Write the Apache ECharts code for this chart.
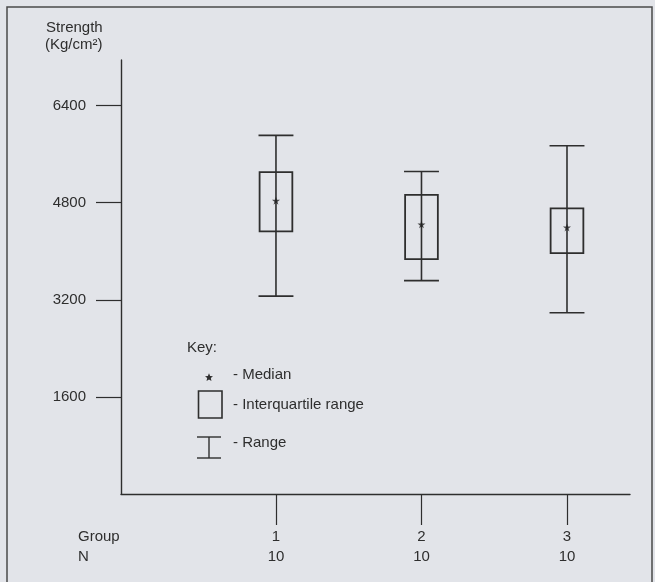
<!DOCTYPE html>
<html>
<head>
<meta charset="utf-8">
<script src="https://cdn.jsdelivr.net/npm/echarts@6/dist/echarts.min.js"></script>
<style>
html,body{margin:0;padding:0;background:#e2e4e9;}
#chart{width:655px;height:582px;}
</style>
</head>
<body>
<div id="chart"></div>
<script>
// ---- Data ----
const groups = ['1', '2', '3'];
const groupPos = [1, 2, 3];
const nValues = [10, 10, 10];
const rangeMin = [3260, 3515, 2986];
const q1 = [4326, 3868, 3967];
const median = [4833, 4442, 4392];
const q3 = [5302, 4927, 4707];
const rangeMax = [5908, 5313, 5738];
const yTicks = [1600, 3200, 4800, 6400];

const FONT = "'Liberation Sans', Arial, Helvetica, sans-serif";
const INK = '#2e2e2e';
const STAR = 'path://M50,0 L61,35 L98,35 L68,57 L79,91 L50,70 L21,91 L32,57 L2,35 L39,35 Z';

const boxData = groupPos.map((x, i) => [x, rangeMin[i], q1[i], median[i], q3[i], rangeMax[i]]);
const medianData = groupPos.map((x, i) => [x, median[i]]);

function starPoints(cx, cy, r) {
  const pts = [];
  for (let k = 0; k < 10; k++) {
    const a = -Math.PI / 2 + k * Math.PI / 5;
    const rr = k % 2 === 0 ? r : r * 0.45;
    pts.push([cx + rr * Math.cos(a), cy + rr * Math.sin(a)]);
  }
  return pts;
}

const chart = echarts.init(document.getElementById('chart'), null, {renderer: 'canvas'});

function renderBox(params, api) {
  const x = api.value(0);
  const pMin = api.coord([x, api.value(1)]);
  const pQ1 = api.coord([x, api.value(2)]);
  const pQ3 = api.coord([x, api.value(4)]);
  const pMax = api.coord([x, api.value(5)]);
  const boxW = api.size([0.225, 0])[0];
  const capW = api.size([0.24, 0])[0];
  const ls = {stroke: INK, lineWidth: 1.6, fill: null};
  return {
    type: 'group',
    children: [
      {type: 'line', shape: {x1: pMin[0], y1: pMin[1], x2: pMax[0], y2: pMax[1]}, style: ls},
      {type: 'line', shape: {x1: pMax[0] - capW / 2, y1: pMax[1], x2: pMax[0] + capW / 2, y2: pMax[1]}, style: ls},
      {type: 'line', shape: {x1: pMin[0] - capW / 2, y1: pMin[1], x2: pMin[0] + capW / 2, y2: pMin[1]}, style: ls},
      {type: 'rect', shape: {x: pQ3[0] - boxW / 2, y: pQ3[1], width: boxW, height: pQ1[1] - pQ3[1]}, style: {stroke: INK, lineWidth: 1.8, fill: null}}
    ]
  };
}

const txt = (x, y, text, extra) => ({
  type: 'text', x: x, y: y,
  style: Object.assign({text: text, fill: INK, font: '15px ' + FONT, verticalAlign: 'middle'}, extra || {})
});

chart.setOption({
  backgroundColor: '#e2e4e9',
  animation: false,
  grid: {left: 121, right: 25, top: 60, bottom: 88, containLabel: false},
  xAxis: {
    type: 'value',
    min: -0.065,
    max: 3.433,
    splitLine: {show: false},
    axisLine: {show: true, onZero: false, lineStyle: {color: INK, width: 1.4}},
    axisTick: {show: true, customValues: groupPos, length: 31, lineStyle: {color: INK, width: 1.2}},
    axisLabel: {
      show: true, customValues: groupPos, margin: 33,
      color: INK, fontSize: 15, fontFamily: FONT, lineHeight: 20,
      formatter: function (v) { const i = groupPos.indexOf(v); return groups[i] + '\n' + nValues[i]; }
    }
  },
  yAxis: {
    type: 'value',
    min: 0,
    max: 7150,
    splitLine: {show: false},
    axisLine: {show: true, onZero: false, lineStyle: {color: INK, width: 1.4}},
    axisTick: {show: true, customValues: yTicks, length: 25, lineStyle: {color: INK, width: 1.2}},
    axisLabel: {show: true, customValues: yTicks, margin: 35, color: INK, fontSize: 15, fontFamily: FONT,
      formatter: function (v) { return String(v); }}
  },
  series: [
    {type: 'custom', renderItem: renderBox, data: boxData, encode: {x: 0, y: [1, 5]}, silent: true},
    {type: 'scatter', data: medianData, symbol: STAR, symbolSize: 8, itemStyle: {color: '#1e1e1e'}, silent: true, z: 5}
  ],
  graphic: [
    {type: 'polyline', shape: {points: [[7, 582], [7, 7], [652, 7], [652, 582]]}, style: {stroke: '#4a4a4a', lineWidth: 1.5, fill: null}, silent: true},
    txt(46, 28, 'Strength'),
    txt(45, 45, '(Kg/cm²)'),
    txt(78, 537, 'Group'),
    txt(78, 557, 'N'),
    txt(187, 348, 'Key:'),
    {type: 'polygon', shape: {points: starPoints(209, 377.5, 4.2)}, style: {fill: INK}},
    txt(233, 375, '- Median'),
    {type: 'rect', shape: {x: 198.5, y: 391, width: 23.5, height: 27}, style: {stroke: INK, lineWidth: 1.6, fill: null}},
    txt(233, 405, '- Interquartile range'),
    {type: 'line', shape: {x1: 197, y1: 437, x2: 221, y2: 437}, style: {stroke: INK, lineWidth: 1.4}},
    {type: 'line', shape: {x1: 209, y1: 437, x2: 209, y2: 458}, style: {stroke: INK, lineWidth: 1.4}},
    {type: 'line', shape: {x1: 197, y1: 458, x2: 221, y2: 458}, style: {stroke: INK, lineWidth: 1.4}},
    txt(233, 443, '- Range')
  ]
});
</script>
</body>
</html>
